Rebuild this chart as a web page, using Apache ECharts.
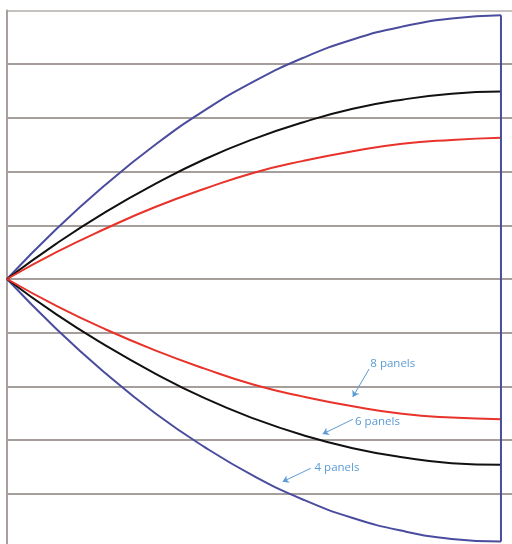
<!DOCTYPE html>
<html>
<head>
<meta charset="utf-8">
<script src="https://cdn.jsdelivr.net/npm/echarts@6/dist/echarts.min.js"></script>
<style>html,body{margin:0;padding:0;background:#fff;overflow:hidden}#c{width:512px;height:548px}</style>
</head>
<body>
<div id="c"></div>
<script>
// fraction of span along the panel
const positions = [0, 0.1, 0.2, 0.3, 0.4, 0.5, 0.6, 0.7, 0.8, 0.9, 1.0];
// upper curves
const panels4Upper = [0, 0.93, 1.76, 2.50, 3.14, 3.68, 4.12, 4.46, 4.70, 4.85, 4.91];
const panels6Upper = [0, 0.66, 1.25, 1.77, 2.23, 2.61, 2.92, 3.17, 3.34, 3.45, 3.49];
const panels8Upper = [0, 0.50, 0.94, 1.34, 1.68, 1.98, 2.20, 2.38, 2.52, 2.59, 2.63];
// lower curves
const panels4Lower = [0, -0.93, -1.76, -2.50, -3.13, -3.67, -4.11, -4.45, -4.69, -4.84, -4.89];
const panels6Lower = [0, -0.66, -1.24, -1.76, -2.22, -2.60, -2.91, -3.15, -3.32, -3.43, -3.46];
const panels8Lower = [0, -0.50, -0.94, -1.33, -1.67, -1.97, -2.19, -2.37, -2.51, -2.58, -2.61];
const labels = ['4 panels', '6 panels', '8 panels'];

const pair = arr => positions.map((p, i) => [p, arr[i]]);
const BLUE = '#4a4c9e', BLACK = '#111111', RED = '#e8322a', NOTE = '#5b9bd5';

function curve(name, arr, color) {
  return { name, type: 'line', data: pair(arr), smooth: true, showSymbol: false,
    lineStyle: { color, width: 2 }, itemStyle: { color }, z: 3, silent: true };
}

const gridColors = ['#877e79','#877e79','#877e79','#877e79','#877e79','#877e79','#877e79','#877e79','#877e79','#877e79','#b3aeab'];

const chart = echarts.init(document.getElementById('c'), null, { renderer: 'canvas' });
chart.setOption({
  animation: false,
  backgroundColor: '#fff',
  grid: { left: 7, right: 0, top: 10.5, bottom: 0.5, containLabel: false },
  xAxis: { type: 'value', min: 0, max: 1.0223, axisLine: { show: false }, axisTick: { show: false },
    axisLabel: { show: false }, splitLine: { show: false } },
  yAxis: { type: 'value', min: -5, max: 5, interval: 1,
    axisLine: { show: true, lineStyle: { color: '#a7a09d', width: 2 } },
    axisTick: { show: false }, axisLabel: { show: false },
    splitLine: { show: true, lineStyle: { color: gridColors, width: 1.5 } } },
  series: [
    curve(labels[0], panels4Upper, BLUE),
    curve(labels[1], panels6Upper, BLACK),
    curve(labels[2], panels8Upper, RED),
    curve(labels[0], panels4Lower, BLUE),
    curve(labels[1], panels6Lower, BLACK),
    curve(labels[2], panels8Lower, RED),
    { name: labels[0], type: 'line', showSymbol: false, silent: true, z: 3,
      data: [[1, panels4Upper[panels4Upper.length - 1]], [1, panels4Lower[panels4Lower.length - 1]]],
      lineStyle: { color: BLUE, width: 2 } },
    { type: 'line', data: [], silent: true,
      markLine: { silent: true, animation: false, symbolSize: [0, 6],
        lineStyle: { color: NOTE, width: 1, type: 'solid' }, label: { show: false },
        data: [
          [{ coord: [0.733, -1.676], symbol: 'none' }, { coord: [0.700, -2.197], symbol: 'arrow', symbolSize: 6 }],
          [{ coord: [0.700, -2.613], symbol: 'none' }, { coord: [0.639, -2.886], symbol: 'arrow', symbolSize: 6 }],
          [{ coord: [0.615, -3.525], symbol: 'none' }, { coord: [0.558, -3.775], symbol: 'arrow', symbolSize: 6 }]
        ] },
      markPoint: { silent: true, animation: false, symbol: 'circle', symbolSize: 0,
        label: { show: true, position: 'inside', color: NOTE, fontSize: 11.5, fontFamily: 'Open Sans' },
        data: [
          { coord: [0.781, -1.583], label: { formatter: labels[2] } },
          { coord: [0.750, -2.657], label: { formatter: labels[1] } },
          { coord: [0.668, -3.520], label: { formatter: labels[0] } }
        ] } }
  ]
});
</script>
</body>
</html>
